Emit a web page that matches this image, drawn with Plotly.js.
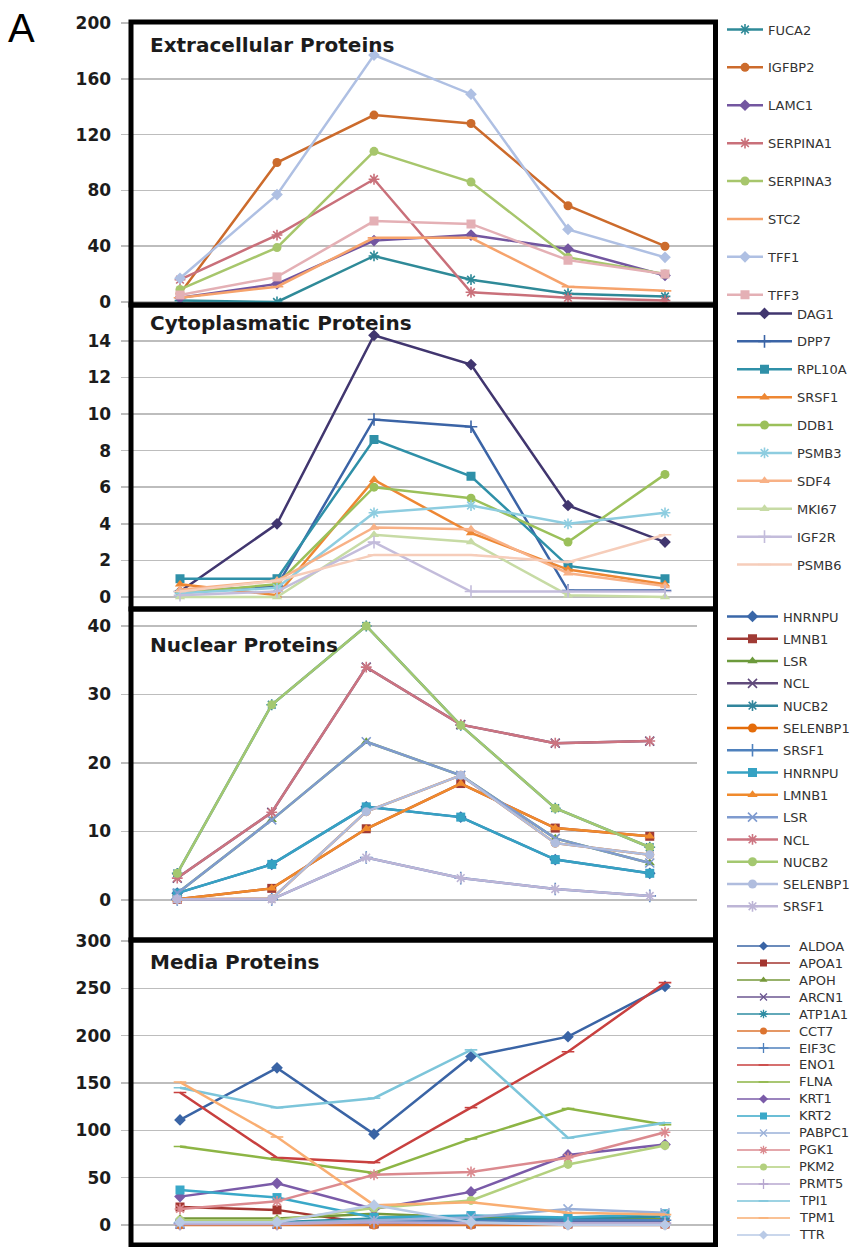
<!DOCTYPE html>
<html><head><meta charset="utf-8">
<script src="https://cdn.plot.ly/plotly-3.0.1.min.js"></script>
<style>html,body{margin:0;padding:0;background:#fff}</style>
</head><body><div id="chart" style="width:865px;height:1247px"></div>
<script>
// ---- category positions (6 time points, unlabeled) ----
const stage = [1, 2, 3, 4, 5, 6];

// ---- Extracellular Proteins ----
const FUCA2    = [1, 0, 33, 16, 6, 4];
const IGFBP2   = [6, 100, 134, 128, 69, 40];
const LAMC1    = [3, 13, 44, 48, 38, 19];
const SERPINA1 = [16, 48, 88, 7, 3, 1];
const SERPINA3 = [9, 39, 108, 86, 32, 20];
const STC2     = [3, 11, 46, 46, 11, 8];
const TFF1     = [17, 77, 177, 149, 52, 32];
const TFF3     = [5, 18, 58, 56, 30, 20];

// ---- Cytoplasmatic Proteins ----
const DAG1   = [0.3, 4.0, 14.3, 12.7, 5.0, 3.0];
const DPP7   = [0.3, 0.6, 9.7, 9.3, 0.35, 0.35];
const RPL10A = [1.0, 1.0, 8.6, 6.6, 1.7, 1.0];
const SRSF1c = [0.7, 0.1, 6.4, 3.5, 1.5, 0.7];
const DDB1   = [0.2, 0.7, 6.0, 5.4, 3.0, 6.7];
const PSMB3  = [0.2, 0.5, 4.6, 5.0, 4.0, 4.6];
const SDF4   = [0.4, 0.9, 3.8, 3.7, 1.3, 0.6];
const MKI67  = [0.0, 0.0, 3.4, 3.0, 0.1, 0.0];
const IGF2R  = [0.1, 0.3, 3.0, 0.3, 0.3, 0.3];
const PSMB6  = [0.3, 0.9, 2.3, 2.3, 1.9, 3.4];

// ---- Nuclear Proteins ----
const HNRNPU   = [1.0, 5.2, 13.6, 12.1, 5.9, 3.9];
const LMNB1    = [0.1, 1.7, 10.4, 17.0, 10.5, 9.3];
const LSR      = [1.0, 11.7, 23.1, 18.2, 9.0, 5.4];
const NCL      = [3.2, 12.8, 34.0, 25.6, 22.9, 23.2];
const NUCB2    = [3.9, 28.5, 40.0, 25.5, 13.4, 7.7];
const SELENBP1 = [0.1, 0.2, 12.9, 18.2, 8.3, 6.6];
const SRSF1n   = [0.1, 0.1, 6.2, 3.2, 1.6, 0.6];

// ---- Media Proteins ----
const ALDOA  = [111, 166, 96, 178, 199, 252];
const APOA1  = [19, 16, 1, 1, 1, 1];
const APOH   = [7, 7, 12, 8, 6, 6];
const ARCN1  = [1, 1, 2, 2, 3, 3];
const ATP1A1 = [3, 3, 7, 6, 7, 9];
const CCT7   = [0, 0, 0, 0, 0, 0];
const EIF3C  = [2, 2, 4, 4, 5, 5];
const ENO1   = [140, 71, 66, 124, 183, 256];
const FLNA   = [83, 69, 55, 91, 123, 106];
const KRT1   = [30, 44, 17, 35, 74, 85];
const KRT2   = [37, 29, 8, 10, 8, 12];
const PABPC1 = [2, 2, 5, 8, 17, 13];
const PGK1   = [17, 25, 53, 56, 71, 98];
const PKM2   = [5, 5, 18, 26, 64, 84];
const PRMT5  = [1, 1, 3, 2, 2, 2];
const TPI1   = [145, 124, 134, 185, 92, 108];
const TPM1   = [151, 93, 21, 24, 13, 11];
const TTR    = [3, 3, 21, 3, 0, 0];

// ---- series styling ----
const extraSeries = [
  {name:'FUCA2', y:FUCA2, color:'#2F8A98', symbol:'asterisk-open'},
  {name:'IGFBP2', y:IGFBP2, color:'#CC6B2C', symbol:'circle'},
  {name:'LAMC1', y:LAMC1, color:'#7356A0', symbol:'diamond'},
  {name:'SERPINA1', y:SERPINA1, color:'#C9707A', symbol:'asterisk-open'},
  {name:'SERPINA3', y:SERPINA3, color:'#A7C66C', symbol:'circle'},
  {name:'STC2', y:STC2, color:'#F6A36C', symbol:'line-ew-open'},
  {name:'TFF1', y:TFF1, color:'#AFC0E3', symbol:'diamond'},
  {name:'TFF3', y:TFF3, color:'#E4B0B5', symbol:'square'}
];
const cytoSeries = [
  {name:'DAG1', y:DAG1, color:'#41366F', symbol:'diamond'},
  {name:'DPP7', y:DPP7, color:'#3B64A6', symbol:'cross-thin-open'},
  {name:'RPL10A', y:RPL10A, color:'#2F90A8', symbol:'square'},
  {name:'SRSF1', y:SRSF1c, color:'#EE8733', symbol:'triangle-up'},
  {name:'DDB1', y:DDB1, color:'#9BC05A', symbol:'circle'},
  {name:'PSMB3', y:PSMB3, color:'#8ECDE0', symbol:'asterisk-open'},
  {name:'SDF4', y:SDF4, color:'#F8B186', symbol:'triangle-up'},
  {name:'MKI67', y:MKI67, color:'#C7DBA5', symbol:'triangle-up'},
  {name:'IGF2R', y:IGF2R, color:'#C3BCDB', symbol:'cross-thin-open'},
  {name:'PSMB6', y:PSMB6, color:'#F6CDBA', symbol:'line-ew-open'}
];
const nucSeries = [
  {name:'HNRNPU', y:HNRNPU, color:'#3A67A8', symbol:'diamond'},
  {name:'LMNB1', y:LMNB1, color:'#A03B35', symbol:'square'},
  {name:'LSR', y:LSR, color:'#6C9A3C', symbol:'triangle-up'},
  {name:'NCL', y:NCL, color:'#604A7B', symbol:'x-thin-open'},
  {name:'NUCB2', y:NUCB2, color:'#31859C', symbol:'asterisk-open'},
  {name:'SELENBP1', y:SELENBP1, color:'#E46C0A', symbol:'circle'},
  {name:'SRSF1', y:SRSF1n, color:'#4F81BD', symbol:'cross-thin-open'},
  {name:'HNRNPU', y:HNRNPU, color:'#36A2C3', symbol:'square'},
  {name:'LMNB1', y:LMNB1, color:'#F08A2C', symbol:'triangle-up'},
  {name:'LSR', y:LSR, color:'#7F9BCF', symbol:'x-thin-open'},
  {name:'NCL', y:NCL, color:'#CC7480', symbol:'asterisk-open'},
  {name:'NUCB2', y:NUCB2, color:'#A4C870', symbol:'circle'},
  {name:'SELENBP1', y:SELENBP1, color:'#B0BDDE', symbol:'circle'},
  {name:'SRSF1', y:SRSF1n, color:'#BDB5D6', symbol:'asterisk-open'}
];
const mediaSeries = [
  {name:'ALDOA', y:ALDOA, color:'#3A64A5', symbol:'diamond'},
  {name:'APOA1', y:APOA1, color:'#A3352F', symbol:'square'},
  {name:'APOH', y:APOH, color:'#76983A', symbol:'triangle-up'},
  {name:'ARCN1', y:ARCN1, color:'#6B5690', symbol:'x-thin-open'},
  {name:'ATP1A1', y:ATP1A1, color:'#2E8CA2', symbol:'asterisk-open'},
  {name:'CCT7', y:CCT7, color:'#DC7430', symbol:'circle'},
  {name:'EIF3C', y:EIF3C, color:'#4F81BD', symbol:'cross-thin-open'},
  {name:'ENO1', y:ENO1, color:'#C8403F', symbol:'line-ew-open'},
  {name:'FLNA', y:FLNA, color:'#8DB545', symbol:'line-ew-open'},
  {name:'KRT1', y:KRT1, color:'#7A5BA8', symbol:'diamond'},
  {name:'KRT2', y:KRT2, color:'#3AA8C8', symbol:'square'},
  {name:'PABPC1', y:PABPC1, color:'#9AB0D8', symbol:'x-thin-open'},
  {name:'PGK1', y:PGK1, color:'#DB8A8F', symbol:'asterisk-open'},
  {name:'PKM2', y:PKM2, color:'#B3D07E', symbol:'circle'},
  {name:'PRMT5', y:PRMT5, color:'#B7A7CF', symbol:'cross-thin-open'},
  {name:'TPI1', y:TPI1, color:'#7CC5DA', symbol:'line-ew-open'},
  {name:'TPM1', y:TPM1, color:'#F9AE72', symbol:'line-ew-open'},
  {name:'TTR', y:TTR, color:'#B9CAE6', symbol:'diamond'}
];

// ---- geometry ----
const W = 865, H = 1247;
const fx = v => v / W;
const fy = v => 1 - v / H;

const panels = [
  {title:'Extracellular Proteins', top:23, bottom:305, range:[-2.15, 200.01], dtick:40, xl:131.5, xr:713.5, box:[22,305], ty:45},
  {title:'Cytoplasmatic Proteins', top:306, bottom:610, range:[-0.71, 15.9], dtick:2, xl:131.5, xr:713.5, box:[305,609], ty:323},
  {title:'Nuclear Proteins', top:612, bottom:939, range:[-5.69, 42.04], dtick:10, xl:130, xr:697, box:[609,940], ty:645},
  {title:'Media Proteins', top:941, bottom:1245, range:[-21.1, 300.01], dtick:50, xl:131.5, xr:713.5, box:[940,1245], ty:962}
];

const traces = [];
let gid = 0;
function addSeries(list, ax, legend) {
  list.forEach(s => {
    const open = /open/.test(s.symbol);
    traces.push({
      type:'scatter', mode:'lines+markers', x:stage, y:s.y, name:s.name,
      xaxis: ax === 1 ? 'x' : 'x' + ax, yaxis: ax === 1 ? 'y' : 'y' + ax,
      line:{color:s.color, width:2.5},
      marker:{symbol:s.symbol, size:9, color:s.color, line:{color:s.color, width: open ? 1.6 : 0}},
      showlegend: !!legend, legend: legend || 'legend', legendgroup:'g' + (gid++),
      hoverinfo:'skip'
    });
  });
}
addSeries(extraSeries, 1, 'legend');
addSeries(cytoSeries, 2, 'legend2');
addSeries(nucSeries, 3, 'legend3');
addSeries(mediaSeries, 4, null);

// manual legend for media panel (tight spacing)
const annotations = [];
mediaSeries.forEach((s, i) => {
  const open = /open/.test(s.symbol);
  traces.push({
    type:'scatter', mode:'lines+markers', x:[0, 0.5, 1], y:[i, i, i],
    xaxis:'x5', yaxis:'y5', showlegend:false, hoverinfo:'skip',
    line:{color:s.color, width:1.5},
    marker:{symbol:s.symbol, size:7, color:s.color, opacity:[0,1,0], line:{color:s.color, width: open ? 1.3 : 0}}
  });
  annotations.push({xref:'x5', yref:'y5', x:1, y:i, text:s.name, showarrow:false, xanchor:'left', yanchor:'middle', xshift:7,
    font:{family:'DejaVu Sans', size:13, color:'#333'}});
});

const layout = {
  width:W, height:H, margin:{l:0, r:0, t:0, b:0, autoexpand:false},
  paper_bgcolor:'#fff', plot_bgcolor:'#fff', showlegend:true,
  shapes:[], annotations: annotations
};
panels.forEach((p, i) => {
  const n = i + 1;
  const xk = n === 1 ? 'xaxis' : 'xaxis' + n;
  const yk = n === 1 ? 'yaxis' : 'yaxis' + n;
  layout[xk] = {domain:[fx(p.xl), fx(p.xr)], range:[0.5, 6.5], showgrid:false, zeroline:false, showticklabels:false, ticks:'', showline:false, fixedrange:true};
  layout[yk] = {domain:[fy(p.bottom), fy(p.top)], range:p.range, dtick:p.dtick, tick0:0, showgrid:true, gridcolor:'#BDBDBD', gridwidth:1.5,
    zeroline:true, zerolinecolor:'#BDBDBD', zerolinewidth:1.5, ticks:'outside', ticklen:10, tickwidth:1.5, tickcolor:'#BDBDBD',
    ticklabelstandoff:6, showline:false, fixedrange:true,
    tickfont:{family:'DejaVu Sans', size:17, weight:'bold', color:'#1c1c1c'}};
  layout.shapes.push({type:'rect', xref:'paper', yref:'paper', x0:fx(131), x1:fx(715.5), y0:fy(p.box[1]), y1:fy(p.box[0]),
    line:{color:'#000', width:5}, fillcolor:'rgba(0,0,0,0)'});
  annotations.push({xref:'paper', yref:'paper', x:fx(148), y:fy(p.ty), text:p.title, showarrow:false, xanchor:'left', yanchor:'middle',
    font:{family:'DejaVu Sans', size:20, weight:'bold', color:'#1c1c1c'}});
});
layout.xaxis5 = {domain:[fx(737), fx(790)], range:[0, 1], visible:false, fixedrange:true};
layout.yaxis5 = {domain:[fy(1245), fy(937)], range:[17.59, -0.53], visible:false, fixedrange:true};

annotations.push({xref:'paper', yref:'paper', x:fx(6), y:fy(28), text:'A', showarrow:false, xanchor:'left', yanchor:'middle',
  font:{family:'Liberation Sans', size:40, color:'#000'}});

const legFont = {family:'DejaVu Sans', size:13, color:'#333'};
layout.legend  = {x:fx(722), y:fy(14.5), xanchor:'left', yanchor:'top', bgcolor:'rgba(0,0,0,0)', borderwidth:0, font:legFont, itemwidth:36, tracegroupgap:18};
layout.legend2 = {x:fx(732), y:fy(298.5), xanchor:'left', yanchor:'top', bgcolor:'rgba(0,0,0,0)', borderwidth:0, font:legFont, itemwidth:55, tracegroupgap:8};
layout.legend3 = {x:fx(722), y:fy(601.5), xanchor:'left', yanchor:'top', bgcolor:'rgba(0,0,0,0)', borderwidth:0, font:legFont, itemwidth:51, tracegroupgap:2.4};

Plotly.newPlot('chart', traces, layout, {staticPlot:true, displayModeBar:false});
</script>
</body></html>
